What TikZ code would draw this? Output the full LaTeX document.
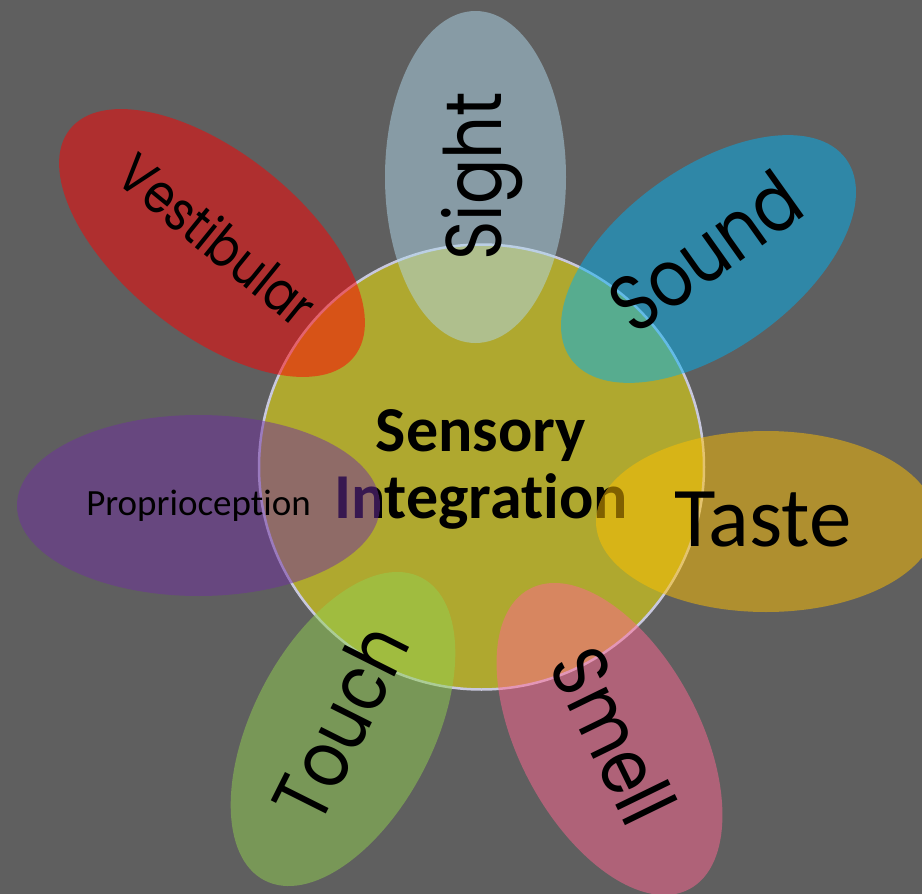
\documentclass[tikz,border=0pt]{standalone}
\usepackage{fontspec}
\setmainfont[Ligatures=NoCommon]{Carlito}
\newfontfamily\gothic[FakeStretch=0.85]{Poppins}
\usetikzlibrary{shapes.geometric}
\definecolor{backgray}{RGB}{95,95,95}
\definecolor{sightblue}{RGB}{175,215,235}
\definecolor{soundblue}{RGB}{0,176,240}
\definecolor{tastegold}{RGB}{255,192,0}
\definecolor{smellpink}{RGB}{255,102,145}
\definecolor{touchgreen}{RGB}{146,208,80}
\definecolor{propurple}{RGB}{112,48,160}
\definecolor{vestred}{RGB}{255,0,0}
\definecolor{rimgray}{RGB}{200,200,222}
\tikzstyle{core}=[circle,inner sep=0pt,minimum size=445pt,fill=yellow,fill opacity=0.5,draw=rimgray,line width=2.5pt]
\tikzstyle{petal}=[ellipse,inner sep=0pt,minimum height=181pt,fill opacity=0.5]
\tikzstyle{sense}=[inner sep=0pt,anchor=base,text=black,font=\gothic\fontsize{79}{84}\selectfont]

\begin{document}
\begin{tikzpicture}[x=1pt,y=-1pt]
    \fill[backgray] (0,0) rectangle (922,894);
    \useasboundingbox (0,0) rectangle (922,894);
    % The middle circle and its title go below the petals
    \node[core] (core) at (481.5,467) {};
    \node[align=center,inner sep=0pt,font=\bfseries\fontsize{64}{67}\selectfont] (title) at (481,469) {Sensory\\Integration};

    % Now the petals, one per sense
    \foreach \pos/\len/\ang/\col/\name in {{(475.5,177)/332/90/sightblue/sight}, {(708.5,259)/340/36/soundblue/sound},
        {(766,521.5)/340/0/tastegold/taste}, {(609.5,739)/340/-62/smellpink/smell}, {(343,729)/341/62.6/touchgreen/touch},
        {(198.5,505.5)/363/0/propurple/proprio}, {(212,243)/364/-38.7/vestred/vestib}}
        \node[petal,fill=\col,minimum width=\len pt,rotate=\ang] (\name) at \pos {};

    % Labels on top of the petals
    \foreach \pos/\ang/\name/\word in {{(501,176.5)/90/sight/Sight}, {(721.5,275)/35.4/sound/Sound},
        {(588,748)/-64/smell/Smell}, {(366,735)/63.4/touch/Touch}}
        \node[sense,rotate=\ang] (\name label) at \pos {\word};
    \node[sense,rotate=-39,font=\gothic\fontsize{55}{60}\selectfont] (vestib label) at (205,255) {Vestibular};
    \node[sense,font=\fontsize{85}{90}\selectfont] (taste label) at (763,546) {Taste};
    \node[sense,font=\fontsize{37}{40}\selectfont] (proprio label) at (198.5,515) {Proprioception};
\end{tikzpicture}
\end{document}
